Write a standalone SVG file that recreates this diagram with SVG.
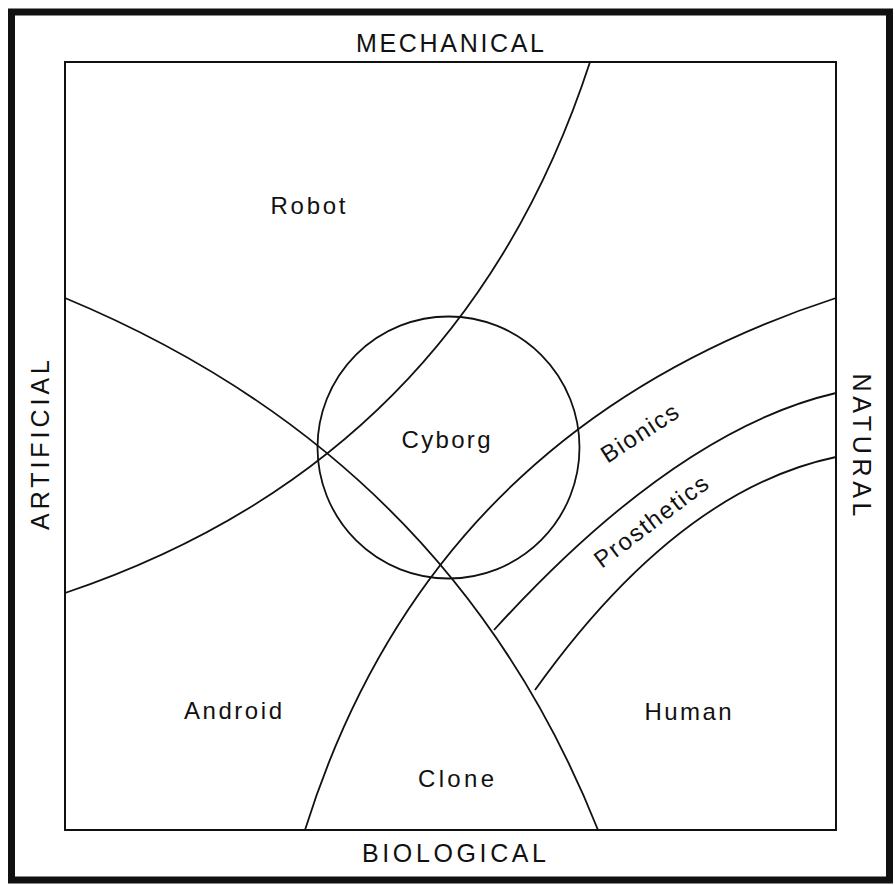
<svg xmlns="http://www.w3.org/2000/svg" width="895" height="885" viewBox="0 0 895 885">
<style>
.curve{fill:none;stroke:#111;stroke-width:1.8}
.lbl{font-family:"Liberation Sans",Arial,sans-serif;font-size:24px;fill:#111}
.axis{font-family:"Liberation Sans",Arial,sans-serif;font-size:25px;fill:#111}
</style>
<rect width="895" height="885" fill="#fff"/>
<g id="frame">
<rect x="11.5" y="12" width="878" height="868" fill="none" stroke="#111" stroke-width="7"/>
<rect x="65" y="62" width="771" height="768" fill="none" stroke="#111" stroke-width="2"/>
</g>
<g id="connectors">
<path class="curve" d="M590,62 Q460,460 65,593"/>
<path class="curve" d="M65,298 Q450,458 598,830"/>
<path class="curve" d="M305,830 Q430,430 836,298"/>
<path class="curve" d="M494,630 Q676,430 836,393"/>
<path class="curve" d="M535,690 Q678,490 836,457"/>
</g>
<g id="cyborg">
<circle class="curve" cx="448.5" cy="447.5" r="131"/>
<text class="lbl" x="446" y="448" text-anchor="middle" textLength="89" lengthAdjust="spacing">Cyborg</text>
</g>
<g id="mechanical"><text class="axis" x="450" y="52" text-anchor="middle" textLength="188" lengthAdjust="spacing">MECHANICAL</text></g>
<g id="biological"><text class="axis" x="454" y="862" text-anchor="middle" textLength="184" lengthAdjust="spacing">BIOLOGICAL</text></g>
<g id="artificial"><text class="axis" transform="translate(49,445) rotate(-90)" text-anchor="middle" textLength="170" lengthAdjust="spacing">ARTIFICIAL</text></g>
<g id="natural"><text class="axis" transform="translate(853,445) rotate(90)" text-anchor="middle" textLength="143" lengthAdjust="spacing">NATURAL</text></g>
<g id="robot"><text class="lbl" x="308" y="214" text-anchor="middle" textLength="75" lengthAdjust="spacing">Robot</text></g>
<g id="android"><text class="lbl" x="233" y="719" text-anchor="middle" textLength="98" lengthAdjust="spacing">Android</text></g>
<g id="human"><text class="lbl" x="688" y="720" text-anchor="middle" textLength="87" lengthAdjust="spacing">Human</text></g>
<g id="clone"><text class="lbl" x="456" y="787" text-anchor="middle" textLength="76" lengthAdjust="spacing">Clone</text></g>
<g id="bionics"><text class="lbl" transform="translate(644,440) rotate(-33)" text-anchor="middle" textLength="87" lengthAdjust="spacing">Bionics</text></g>
<g id="prosthetics"><text class="lbl" transform="translate(656,528) rotate(-37)" text-anchor="middle" textLength="136" lengthAdjust="spacing">Prosthetics</text></g>
</svg>
